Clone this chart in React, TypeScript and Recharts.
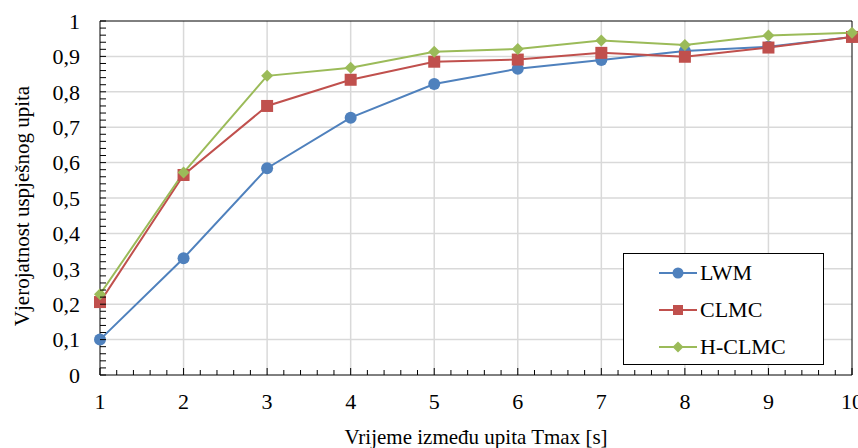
import React from 'react';
import { LineChart, Line, XAxis, YAxis, CartesianGrid, ReferenceLine } from 'recharts';

const times = [1, 2, 3, 4, 5, 6, 7, 8, 9, 10];
const lwm = [0.1, 0.33, 0.584, 0.727, 0.822, 0.865, 0.89, 0.915, 0.927, 0.955];
const clmc = [0.206, 0.565, 0.76, 0.834, 0.885, 0.891, 0.91, 0.899, 0.925, 0.955];
const hclmc = [0.228, 0.572, 0.845, 0.868, 0.913, 0.921, 0.945, 0.932, 0.959, 0.967];

const seriesNames = ['LWM', 'CLMC', 'H-CLMC'];

const xMajor = [1, 2, 3, 4, 5, 6, 7, 8, 9, 10];
const yMajor = [0, 0.1, 0.2, 0.3, 0.4, 0.5, 0.6, 0.7, 0.8, 0.9, 1];
const xMinor = Array.from({ length: 46 }, (_, i) => 1 + i / 5);
const yMinor = Array.from({ length: 51 }, (_, i) => i / 50);

const data = times.map((t, i) => ({ t, LWM: lwm[i], CLMC: clmc[i], 'H-CLMC': hclmc[i] }));

const FONT = '"Liberation Serif", "Times New Roman", serif';
const BLUE = '#4f81bd';
const RED = '#c0504d';
const GREEN = '#9bbb59';
const colors: Record<string, string> = { LWM: BLUE, CLMC: RED, 'H-CLMC': GREEN };

const isMajor = (v: number, step: number) => Math.abs(v / step - Math.round(v / step)) < 1e-6;

const YTick = (props: any) => {
  const { x, y, payload } = props;
  const v = payload.value;
  const major = isMajor(v, 0.1);
  return (
    <g>
      <line x1={x} y1={y} x2={x + 6} y2={y} stroke="#000" />
      {major && (
        <text x={x - 20} y={y} dy="0.35em" textAnchor="end" style={{ fontFamily: FONT }} fontSize={22} fill="#000">
          {String(Math.round(v * 10) / 10).replace('.', ',')}
        </text>
      )}
    </g>
  );
};

const XTick = (props: any) => {
  const { x, y, payload } = props;
  const v = payload.value;
  const major = isMajor(v, 1);
  return (
    <g>
      <line x1={x} y1={y} x2={x} y2={y - (major ? 7 : 5)} stroke="#000" />
      {major && (
        <text x={x} y={y + 34} textAnchor="middle" style={{ fontFamily: FONT }} fontSize={22} fill="#000">
          {Math.round(v)}
        </text>
      )}
    </g>
  );
};

const SquareDot = (props: any) => {
  const { cx, cy, fill } = props;
  if (cx == null || cy == null) return null;
  return <rect x={cx - 6} y={cy - 6} width={12} height={12} fill={fill} />;
};

const DiamondDot = (props: any) => {
  const { cx, cy, fill } = props;
  if (cx == null || cy == null) return null;
  return <path d={`M${cx},${cy - 6}L${cx + 6},${cy}L${cx},${cy + 6}L${cx - 6},${cy}Z`} fill={fill} />;
};

const markerFor = (name: string, color: string) => {
  if (name === 'LWM') return <circle cx={19} cy={10} r={5.5} fill={color} />;
  if (name === 'CLMC') return <rect x={14} y={5} width={10} height={10} fill={color} />;
  return <path d="M19,4.5L24.5,10L19,15.5L13.5,10Z" fill={color} />;
};

const YTitle = (props: any) => {
  const vb = props.viewBox || {};
  const cx = 22;
  const cy = vb.y + vb.height / 2 + 8;
  return (
    <text x={cx} y={cy} transform={`rotate(-90 ${cx} ${cy})`} textAnchor="middle" dy="0.35em" style={{ fontFamily: FONT }} fontSize={21} fill="#000">
      Vjerojatnost uspješnog upita
    </text>
  );
};

const XTitle = (props: any) => {
  const vb = props.viewBox || {};
  return (
    <text x={vb.x + vb.width / 2} y={444} textAnchor="middle" style={{ fontFamily: FONT }} fontSize={21} fill="#000">
      Vrijeme između upita Tmax [s]
    </text>
  );
};

export default function App() {
  return (
    <div style={{ position: 'absolute', left: 0, top: 0, width: 858, height: 448, background: '#fff' }}>
      <LineChart width={858} height={448} data={data} margin={{ top: 21, right: 6, left: 0, bottom: 0 }}>
        <CartesianGrid
          stroke="#d9d9d9"
          strokeWidth={1.5}
          horizontalValues={yMajor.slice(1, -1)}
          verticalValues={xMajor.slice(1, -1)}
        />
        <XAxis
          dataKey="t"
          type="number"
          domain={[1, 10]}
          ticks={xMinor}
          interval={0}
          height={73}
          tickSize={0}
          tickMargin={0}
          tickLine={false}
          axisLine={{ stroke: '#000' }}
          tick={<XTick />}
          label={{ content: <XTitle /> }}
        />
        <YAxis
          type="number"
          domain={[0, 1]}
          ticks={yMinor}
          interval={0}
          width={100}
          tickSize={0}
          tickMargin={0}
          tickLine={false}
          axisLine={{ stroke: '#000' }}
          tick={<YTick />}
          label={{ content: <YTitle /> }}
        />
        <ReferenceLine y={1} stroke="#000" />
        <ReferenceLine x={10} stroke="#000" />
        <Line dataKey="LWM" stroke={BLUE} strokeWidth={2} isAnimationActive={false} dot={{ r: 6, fill: BLUE, stroke: 'none' }} />
        <Line dataKey="CLMC" stroke={RED} strokeWidth={2} isAnimationActive={false} dot={<SquareDot fill={RED} />} />
        <Line dataKey="H-CLMC" stroke={GREEN} strokeWidth={2} isAnimationActive={false} dot={<DiamondDot fill={GREEN} />} />
      </LineChart>
      <div
        style={{
          position: 'absolute',
          left: 623,
          top: 253,
          width: 199,
          height: 110,
          border: '1px solid #000',
          background: '#fff',
        }}
      >
        {seriesNames.map((name) => (
          <div key={name} style={{ height: 37, display: 'flex', alignItems: 'center' }}>
            <svg width={38} height={20} style={{ marginLeft: 35 }}>
              <line x1={0} y1={10} x2={38} y2={10} stroke={colors[name]} strokeWidth={2} />
              {markerFor(name, colors[name])}
            </svg>
            <span style={{ fontFamily: FONT, fontSize: 22, color: '#000', marginLeft: 3, lineHeight: '22px' }}>{name}</span>
          </div>
        ))}
      </div>
    </div>
  );
}
